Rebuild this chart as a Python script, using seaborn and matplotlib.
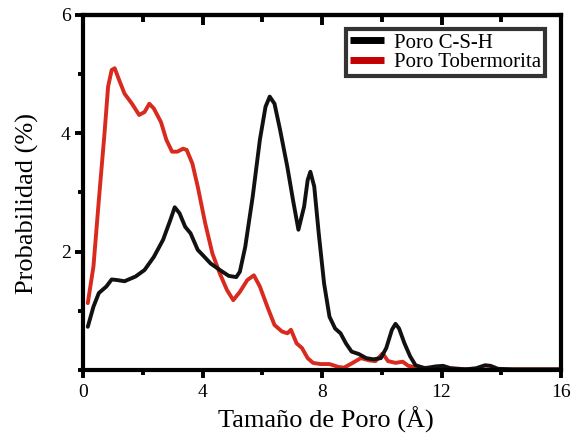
import matplotlib
matplotlib.use("Agg")
import matplotlib.pyplot as plt
from matplotlib.lines import Line2D
from matplotlib.ticker import MultipleLocator
import pandas as pd
import seaborn as sns

# Pore size distribution curves (pore size in Å, probability in %)
csh_size = [0.16, 0.35, 0.53, 0.78, 0.96, 1.14, 1.39, 1.76, 2.06, 2.37, 2.68, 2.92,
            3.07, 3.23, 3.42, 3.60, 3.84, 4.03, 4.27, 4.58, 4.88, 5.13, 5.25, 5.43,
            5.68, 5.92, 6.11, 6.25, 6.41, 6.60, 6.84, 7.03, 7.21, 7.40, 7.52, 7.61,
            7.74, 7.89, 8.07, 8.25, 8.44, 8.62, 8.80, 8.99, 9.23, 9.48, 9.72, 9.97,
            10.15, 10.34, 10.46, 10.58, 10.76, 10.95, 11.13, 11.44, 11.80, 12.05,
            12.30, 12.80, 13.16, 13.46, 13.64, 13.89, 14.38, 16.0]
csh_prob = [0.73, 1.07, 1.30, 1.41, 1.53, 1.52, 1.50, 1.58, 1.69, 1.91, 2.20, 2.53,
            2.75, 2.65, 2.42, 2.31, 2.03, 1.93, 1.80, 1.69, 1.59, 1.57, 1.66, 2.08,
            2.93, 3.89, 4.45, 4.62, 4.50, 4.05, 3.43, 2.87, 2.37, 2.76, 3.21, 3.35,
            3.10, 2.31, 1.46, 0.90, 0.70, 0.62, 0.45, 0.31, 0.27, 0.20, 0.18, 0.20,
            0.37, 0.68, 0.78, 0.70, 0.45, 0.23, 0.08, 0.03, 0.06, 0.07,
            0.03, 0.01, 0.03, 0.08, 0.07, 0.02, 0.01, 0.01]

tob_size = [0.16, 0.35, 0.53, 0.72, 0.84, 0.96, 1.06, 1.21, 1.39, 1.64, 1.88, 2.06,
            2.22, 2.37, 2.61, 2.79, 2.98, 3.16, 3.35, 3.47, 3.66, 3.84, 4.09, 4.33,
            4.58, 4.82, 5.03, 5.25, 5.50, 5.72, 5.92, 6.17, 6.41, 6.66, 6.84, 6.96,
            7.15, 7.33, 7.52, 7.70, 7.95, 8.25, 8.56, 8.74, 8.99, 9.30, 9.60, 9.79,
            10.03, 10.21, 10.46, 10.70, 10.89, 11.19, 11.93, 13.16, 16.0]
tob_prob = [1.13, 1.75, 2.87, 4.00, 4.79, 5.07, 5.10, 4.90, 4.67, 4.50, 4.31, 4.36,
            4.50, 4.42, 4.19, 3.89, 3.69, 3.69, 3.74, 3.72, 3.49, 3.10, 2.48, 1.97,
            1.63, 1.35, 1.18, 1.32, 1.52, 1.60, 1.41, 1.07, 0.76, 0.65, 0.62, 0.68,
            0.45, 0.37, 0.20, 0.12, 0.10, 0.10, 0.05, 0.04, 0.11, 0.20, 0.16, 0.15,
            0.28, 0.15, 0.12, 0.14, 0.07, 0.04, 0.03, 0.01, 0.01]

series_names = ["Poro C-S-H", "Poro Tobermorita"]
line_colors = ["#111111", "#d82a1e"]
legend_colors = ["#000000", "#c40000"]

x_ticks = [0, 4, 8, 12, 16]
y_ticks = [2, 4, 6]

sns.set_theme(style="ticks")
plt.rcParams["font.family"] = ["Liberation Serif", "DejaVu Serif"]

fig = plt.figure(figsize=(5.74, 4.38), dpi=100)
ax = fig.add_axes([0.1446, 0.1553, 0.8328, 0.8105])

csh = pd.DataFrame({"size": csh_size, "prob": csh_prob})
tob = pd.DataFrame({"size": tob_size, "prob": tob_prob})

sns.lineplot(data=tob, x="size", y="prob", ax=ax, color=line_colors[1],
             lw=2.8, sort=False, estimator=None, solid_joinstyle="round",
             solid_capstyle="round")
sns.lineplot(data=csh, x="size", y="prob", ax=ax, color=line_colors[0],
             lw=2.8, sort=False, estimator=None, solid_joinstyle="round",
             solid_capstyle="round")

ax.set_xlim(0, 16)
ax.set_ylim(0, 6)
ax.set_xticks(x_ticks)
ax.set_yticks(y_ticks)
ax.set_yticklabels([str(v) for v in y_ticks])
ax.xaxis.set_minor_locator(MultipleLocator(2))
ax.yaxis.set_minor_locator(MultipleLocator(1))

for side in ["left", "right", "top", "bottom"]:
    ax.spines[side].set_linewidth(3.0)
    ax.spines[side].set_color("black")

ax.tick_params(axis="both", which="major", direction="out", length=6, width=2.8,
               labelsize=14, colors="black", pad=3)
ax.tick_params(axis="both", which="minor", direction="out", length=3.5, width=2.8,
               colors="black")
ax.tick_params(axis="x", which="both", pad=4)
ax.tick_params(top=False, right=False, which="both")

# inward ticks along the top edge
top = ax.twiny()
top.set_xlim(0, 16)
top.set_xticks(x_ticks)
top.xaxis.set_minor_locator(MultipleLocator(2))
top.tick_params(axis="x", which="major", direction="in", length=7, width=2.8,
                top=True, bottom=False, labeltop=False, labelbottom=False,
                colors="black")
top.tick_params(axis="x", which="minor", direction="in", length=5, width=2.8,
                top=True, bottom=False, colors="black")
for side in ["left", "right", "bottom"]:
    top.spines[side].set_visible(False)
top.spines["top"].set_linewidth(3.0)
top.spines["top"].set_color("black")

ax.set_xlabel("Tamaño de Poro (Å)", fontsize=19, color="black")
ax.set_ylabel("Probabilidad (%)", fontsize=19, color="black")
ax.xaxis.set_label_coords(0.508, -0.102)
ax.yaxis.set_label_coords(-0.092, 0.47)

handles = [Line2D([], [], color=legend_colors[0], lw=5, solid_capstyle="butt"),
           Line2D([], [], color=legend_colors[1], lw=5, solid_capstyle="butt")]
leg = top.legend(handles, series_names, loc="upper right",
                 bbox_to_anchor=(0.967, 0.961), fontsize=15, frameon=True,
                 fancybox=False, borderpad=0.2, labelspacing=0.0,
                 handlelength=1.6, handletextpad=0.5, borderaxespad=0.0)
leg.get_frame().set_edgecolor("black")
leg.get_frame().set_linewidth(3.0)
for txt in leg.get_texts():
    txt.set_color("black")

fig.savefig("out.png", dpi=100)
